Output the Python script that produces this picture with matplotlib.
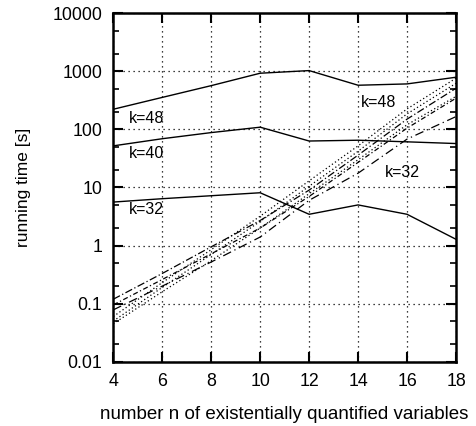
import matplotlib
matplotlib.use("Agg")
import matplotlib.pyplot as plt
from matplotlib.ticker import LogLocator, FixedLocator, NullFormatter

plt.rcParams['font.family'] = ['Liberation Sans', 'DejaVu Sans']

n = [4, 6, 8, 10, 12, 14, 16, 18]

# measured running times (solid lines)
solid_k48 = [222, 355, 566, 926, 1028, 575, 606, 790]
solid_k40 = [52, 69, 88, 109, 63, 65, 61, 57]
solid_k32 = [5.6, 6.4, 7.2, 8.1, 3.45, 5.0, 3.45, 1.28]

# other series (dotted / dash-dot)
dot_a = [0.060, 0.23, 0.85, 3.2, 13.0, 52, 225, 760]
dot_b = [0.050, 0.19, 0.70, 2.6, 10.5, 42, 185, 620]
dot_c = [0.045, 0.16, 0.55, 2.0, 7.8, 30, 120, 370]
dd_a = [0.119, 0.33, 0.95, 2.7, 9.0, 36, 150, 510]
dd_b = [0.095, 0.26, 0.72, 2.0, 7.0, 27, 105, 344]
dd_c = [0.078, 0.20, 0.52, 1.4, 6.0, 17.6, 68, 166]

xticks = [4, 6, 8, 10, 12, 14, 16, 18]
yticks = [0.01, 0.1, 1, 10, 100, 1000, 10000]
ytick_labels = ['0.01', '0.1', '1', '10', '100', '1000', '10000']

labels = [("k=48", 5.36, 155), ("k=40", 5.36, 37.8), ("k=32", 5.36, 4.1),
          ("k=48", 14.83, 293), ("k=32", 15.82, 18.3)]

fig = plt.figure(figsize=(4.76, 4.26), dpi=100)
ax = fig.add_axes([0.238, 0.151, 0.720, 0.818])

for s in (solid_k48, solid_k40, solid_k32):
    ax.plot(n, s, color='black', lw=1.0, ls='-')
for s in (dot_a, dot_b, dot_c):
    ax.plot(n, s, color='black', lw=0.9, ls=(0, (1, 2)))
ax.plot(n, dd_a, color='black', lw=0.9, ls=(0, (6, 2, 1, 2)))
ax.plot(n, dd_b, color='black', lw=0.9, ls=(0, (4, 2, 1, 2)))
ax.plot(n, dd_c, color='black', lw=0.9, ls=(0, (7, 3, 1, 3)))

ax.set_yscale('log')
ax.set_xlim(4, 18)
ax.set_ylim(0.01, 10000)
ax.xaxis.set_major_locator(FixedLocator(xticks))
ax.set_xticklabels([str(v) for v in xticks])
ax.yaxis.set_major_locator(FixedLocator(yticks))
ax.set_yticklabels(ytick_labels)
ax.yaxis.set_minor_locator(LogLocator(base=10, subs=(2.0, 5.0), numticks=20))
ax.yaxis.set_minor_formatter(NullFormatter())

ax.grid(True, which='major', color='black', ls=(0, (1, 3)), lw=0.9)
ax.tick_params(which='major', direction='in', length=7, width=1.5,
               top=True, right=True, labelsize=12.8, pad=8)
ax.tick_params(which='minor', direction='in', length=4, width=1.2,
               top=True, right=True)
for sp in ax.spines.values():
    sp.set_linewidth(1.8)

for txt, x, y in labels:
    ax.text(x, y, txt, fontsize=11.5, ha='center', va='center')

ax.set_xlabel('number n of existentially quantified variables', fontsize=13.5, labelpad=12)
ax.set_ylabel('running time [s]', fontsize=12.5, labelpad=15)

fig.savefig('out.png', dpi=100)
